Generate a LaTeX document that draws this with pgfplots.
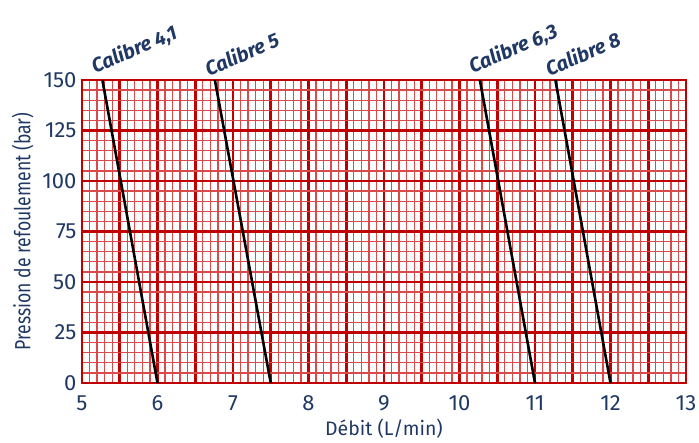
\documentclass[border=0pt]{standalone}
\usepackage{fontspec}
\setmainfont{Fira Sans}
\newfontfamily\condfont{Fira Sans}[FakeStretch=0.8]
\usepackage{pgfplots}
\pgfplotsset{compat=1.18}
\definecolor{gridred}{HTML}{C00000}
\definecolor{minorred}{HTML}{D94A4A}
\definecolor{navy}{HTML}{1F3864}

\begin{document}
\begin{tikzpicture}
\begin{axis}[
    at={(0,0)}, anchor=south west,
    scale only axis,
    width=604pt, height=303pt,
    xmin=5, xmax=13, ymin=0, ymax=150,
    xtick={5,5.5,...,13},
    xticklabels={5,,6,,7,,8,,9,,10,,11,,12,,13},
    ytick={0,25,...,150},
    minor x tick num=4, minor y tick num=4,
    grid=both,
    major grid style={gridred, line width=2.6pt},
    minor grid style={minorred, line width=1.3pt},
    axis line style={gridred, line width=2.6pt},
    major tick length=0pt, minor tick length=0pt,
    tick label style={font=\fontsize{22}{24}\selectfont, text=navy},
    /pgf/number format/assume math mode=true,
    xticklabel style={yshift=-9pt},
    yticklabel style={xshift=-2pt},
    xlabel={Débit (L/min)},
    ylabel={Pression de refoulement (bar)},
    xlabel style={font=\fontsize{19.5}{22}\selectfont, text=navy, yshift=-1pt},
    ylabel style={font=\condfont\fontsize{22}{24}\selectfont, text=navy, yshift=2pt},
    clip=false,
]
\addplot[black, line width=2.6pt] coordinates {(5.27,150) (6.0,0)};
\addplot[black, line width=2.6pt] coordinates {(6.76,150) (7.5,0)};
\addplot[black, line width=2.6pt] coordinates {(10.27,150) (11.0,0)};
\addplot[black, line width=2.6pt] coordinates {(11.27,150) (12.0,0)};
\foreach \x/\t in {5.27/{4,1}, 6.76/5, 10.27/{6,3}, 11.27/8}{
  \edef\temp{\noexpand\node[rotate=23, anchor=south west, inner sep=0pt,
    font=\noexpand\fontsize{20}{22}\noexpand\selectfont\noexpand\bfseries\noexpand\itshape, text=navy]
    at ([xshift=-6pt, yshift=3pt]axis cs:\x,150) {Calibre \t};}
  \temp
}
\end{axis}
\pgfresetboundingbox
\path (-82pt,-60pt) rectangle (617pt,383pt);
\end{tikzpicture}
\end{document}
